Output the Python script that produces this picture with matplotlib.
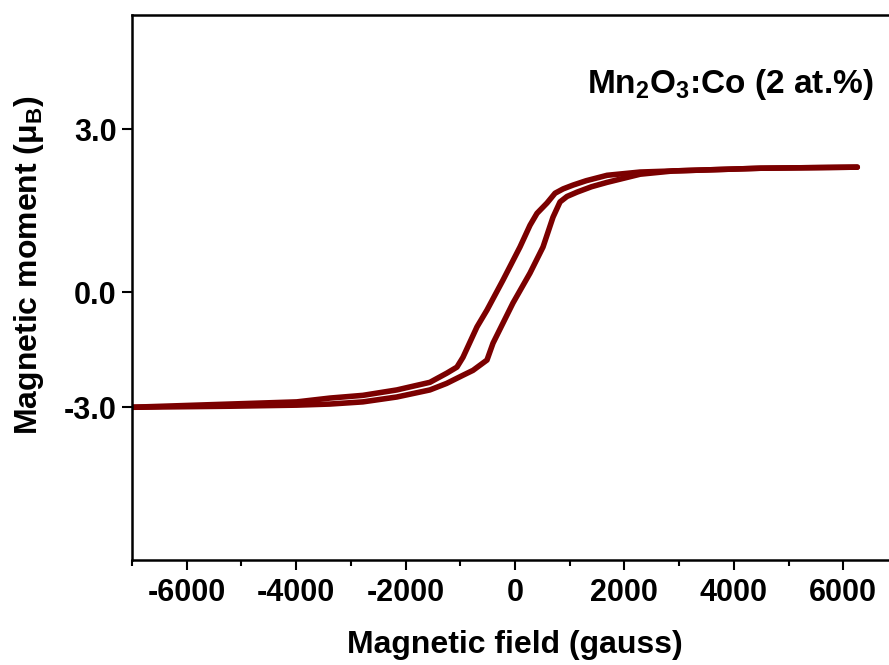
import matplotlib
matplotlib.use('Agg')
import matplotlib.pyplot as plt
from matplotlib.ticker import MultipleLocator

FONT_NAME = 'Liberation Sans'
TICK_FONT_SIZE = 22
LABEL_FONT_SIZE = 23
LINE_COLOR = '#7b0000'

plt.rcParams['font.family'] = [FONT_NAME, 'DejaVu Sans']
plt.rcParams['font.weight'] = 'bold'
plt.rcParams['axes.unicode_minus'] = False
plt.rcParams['mathtext.fontset'] = 'custom'
plt.rcParams['mathtext.default'] = 'bf'
plt.rcParams['mathtext.bf'] = FONT_NAME + ':bold'
plt.rcParams['mathtext.rm'] = FONT_NAME + ':bold'

# descending branch (field swept from + to -), gauss / mu_B
field_down = [6256, 4482, 2890, 2287, 1683, 1300, 1061, 880, 732, 585, 402, 274, 91,
              -220, -512, -695, -951, -1061, -1244, -1555, -2159, -2781,
              -3384, -3988, -5214, -7043]
moment_down = [2.30, 2.28, 2.23, 2.21, 2.15, 2.05, 1.97, 1.90, 1.82, 1.64, 1.45, 1.23, 0.83,
               0.22, -0.33, -0.64, -1.20, -1.38, -1.49, -1.66, -1.80, -1.90,
               -1.95, -2.02, -2.06, -2.12]

# ascending branch (field swept from - to +)
field_up = [-7043, -5214, -3988, -3384, -2781, -2159, -1555, -1250, -951, -768, -512,
            -402, -37, 274, 512, 695, 823, 950, 1134, 1400, 1683, 2287, 2890, 4482, 6256]
moment_up = [-2.12, -2.10, -2.08, -2.06, -2.02, -1.93, -1.80, -1.68, -1.53, -1.44, -1.25,
             -0.94, -0.20, 0.35, 0.83, 1.38, 1.66, 1.76, 1.84, 1.94, 2.02, 2.17, 2.23, 2.28, 2.30]

x_ticks = [-6000, -4000, -2000, 0, 2000, 4000, 6000]
y_tick_pos = [3.0, 0.0, -2.12]
y_tick_labels = ['3.0', '0.0', '-3.0']

fig = plt.figure(figsize=(8.89, 6.65), dpi=100)
# right edge of the frame lies just outside the picture, as in the original
ax = fig.add_axes([132 / 889, 105 / 665, 766 / 889, 545 / 665])

ax.plot(field_down, moment_down, color=LINE_COLOR, linewidth=4,
        solid_capstyle='round', solid_joinstyle='round')
ax.plot(field_up, moment_up, color=LINE_COLOR, linewidth=4,
        solid_capstyle='round', solid_joinstyle='round')

ax.set_xlim(-7000, 7000)
ax.set_ylim(-4.93, 5.1)

ax.set_xticks(x_ticks)
ax.set_xticklabels([str(v) for v in x_ticks])
ax.xaxis.set_minor_locator(MultipleLocator(1000))
ax.set_yticks(y_tick_pos)
ax.set_yticklabels(y_tick_labels)

for s in ax.spines.values():
    s.set_linewidth(1.8)

ax.tick_params(axis='both', which='major', direction='out', length=7,
               width=1.5, labelsize=TICK_FONT_SIZE)
ax.tick_params(axis='x', which='major', pad=6)
ax.tick_params(axis='y', which='major', pad=4)
ax.tick_params(axis='x', which='minor', direction='out', length=4.5, width=1.5)

ax.set_xlabel('Magnetic field (gauss)', fontsize=LABEL_FONT_SIZE, fontweight='bold')
ax.set_ylabel('Magnetic moment (μ$_{B}$)', fontsize=LABEL_FONT_SIZE, fontweight='bold')
ax.xaxis.set_label_coords(0.5, -0.128)
ax.yaxis.set_label_coords(-0.112, 0.541)

fig.text(873 / 889, 1 - 93 / 665, 'Mn$_{2}$O$_{3}$:Co (2 at.%)', ha='right',
         va='baseline', fontsize=24, fontweight='bold')

fig.savefig('out.png', dpi=100)
